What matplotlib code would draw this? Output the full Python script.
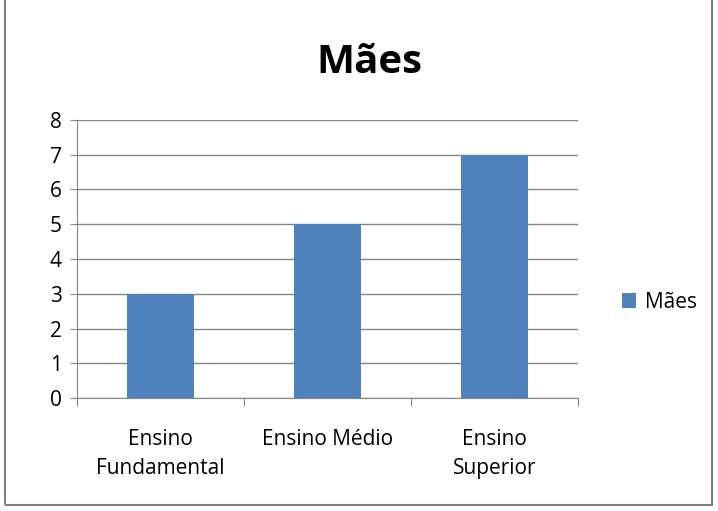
import matplotlib.pyplot as plt
from matplotlib.patches import Rectangle

categorias = ['Ensino\nFundamental', 'Ensino Médio', 'Ensino\nSuperior']
maes = [3, 5, 7]
y_ticks = list(range(0, 9))

plt.rcParams['font.family'] = ['Open Sans', 'DejaVu Sans']

fig = plt.figure(figsize=(7.18, 5.11), dpi=100)
ax = fig.add_axes([0.1072, 0.2211, 0.6978, 0.5441])

pos = range(len(categorias))
ax.bar(pos, maes, width=0.4, color='#4F81BD', label='Mães', zorder=3)

ax.set_xlim(-0.5, len(categorias) - 0.5)
ax.set_ylim(0, 8)
ax.set_yticks(y_ticks)
ax.yaxis.grid(True, color='#868686', linewidth=1, zorder=0)

ax.set_xticks([i - 0.5 for i in range(len(categorias) + 1)])
ax.set_xticklabels([])
ax.set_xticks(list(pos), minor=True)
ax.set_xticklabels(categorias, minor=True, fontsize=15, linespacing=1.55)
ax.tick_params(axis='x', which='major', length=6, color='#868686')
ax.tick_params(axis='x', which='minor', length=0, pad=22)
ax.tick_params(axis='y', length=5, color='#868686', labelsize=15, pad=6)

for s in ['top', 'right']:
    ax.spines[s].set_visible(False)
for s in ['left', 'bottom']:
    ax.spines[s].set_color('#868686')

fig.text(0.515, 0.877, 'Mães', fontsize=29, fontweight='bold', ha='center', va='center')
fig.legend(loc='center left', bbox_to_anchor=(0.84, 0.408), frameon=False,
           fontsize=15, handlelength=0.7, handleheight=0.7, handletextpad=0.4)

fig.patches.append(Rectangle((0.007, 0.012), 0.985, 1.2, transform=fig.transFigure,
                             fill=False, edgecolor='#808080', linewidth=1.5))

fig.savefig('out.png', dpi=100)
